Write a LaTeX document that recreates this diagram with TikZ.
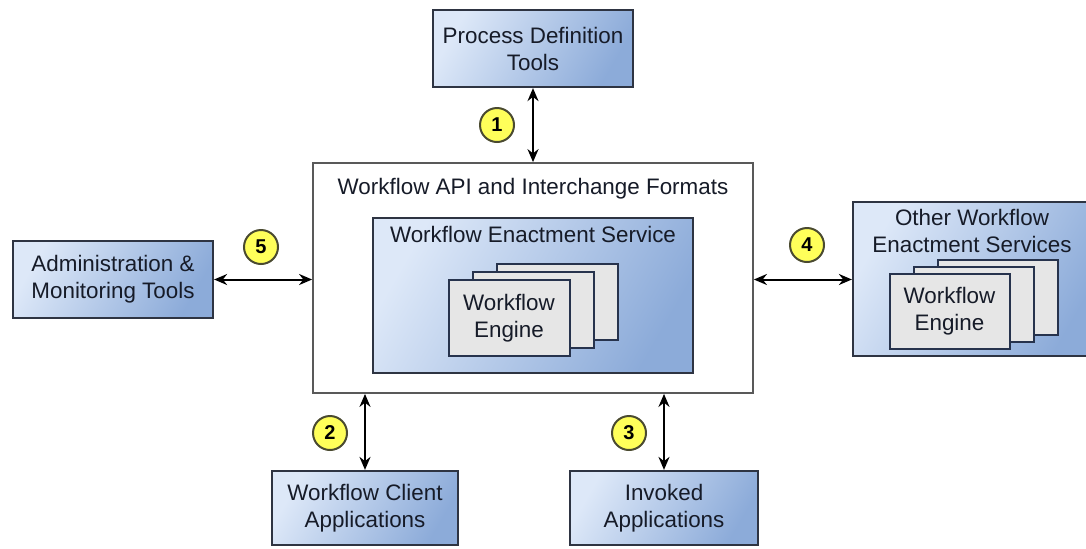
\documentclass[tikz,border=0pt]{standalone}
\usepackage{fontspec}
\setmainfont{Liberation Sans}
\usetikzlibrary{arrows.meta,shadings}
\definecolor{txt}{HTML}{161B28}
\definecolor{bord}{HTML}{2E3442}
\definecolor{blueA}{HTML}{DDE8F8}
\definecolor{blueB}{HTML}{8CABD9}
\definecolor{engfill}{HTML}{E6E6E6}
\definecolor{engbord}{HTML}{27334D}
\definecolor{yel}{HTML}{FFFF5A}
\definecolor{yelbord}{HTML}{4A4A30}
\tikzset{
  bluebox/.style={draw=bord, line width=1.1pt, shading=axis, left color=blueA, right color=blueB, shading angle=60, inner sep=0pt, align=center, text=txt},
  whitebox/.style={draw=black!65, line width=0.9pt, fill=white, inner sep=0pt},
  engbox/.style={draw=engbord, line width=1pt, fill=engfill, inner sep=0pt, align=center, text=txt},
  numcirc/.style={circle, draw=yelbord, line width=1pt, fill=yel, minimum size=17pt, inner sep=0pt, font=\fontsize{10}{12}\selectfont\bfseries},
  biarrow/.style={{Stealth[length=6.5pt,width=5.5pt]}-{Stealth[length=6.5pt,width=5.5pt]}, line width=1pt, black},
  lbl/.style={text=txt, align=center, inner sep=0pt}
}
\begin{document}
\begin{tikzpicture}[x=0.5pt,y=-0.5pt, font=\fontsize{11.2}{13.5}\selectfont]
\useasboundingbox[fill=white] (0,0) rectangle (1086,548);
% top box
\node[bluebox, minimum width=100pt, minimum height=38.5pt] (pdt) at (533,48.5) {Process Definition\\Tools};
% main box
\node[whitebox, minimum width=220pt, minimum height=115pt] (main) at (533,278) {};
\node[lbl] (maintitle) at (533,189) {Workflow API and Interchange Formats};
% enactment service
\node[bluebox, minimum width=160pt, minimum height=77.5pt] (wes) at (533,295.5) {};
\node[lbl] (westitle) at (533,234) {Workflow Enactment Service};
\node[engbox, minimum width=60.5pt, minimum height=38pt] (e3) at (557,302) {};
\node[engbox, minimum width=60.5pt, minimum height=38pt] (e2) at (533,310) {};
\node[engbox, minimum width=60.5pt, minimum height=38pt] (e1) at (509,318) {Workflow\\Engine};
% admin
\node[bluebox, minimum width=100pt, minimum height=38.5pt] (adm) at (113,279.5) {Administration \&\\Monitoring Tools};
% other
\node[bluebox, minimum width=122pt, minimum height=77pt] (oth) at (975,279) {};
\node[lbl] (othtitle) at (972,231) {Other Workflow\\Enactment Services};
\node[engbox, minimum width=60pt, minimum height=37.5pt] (o3) at (997.5,297.5) {};
\node[engbox, minimum width=60pt, minimum height=37.5pt] (o2) at (974,304.5) {};
\node[engbox, minimum width=60pt, minimum height=37.5pt] (o1) at (949.5,311.5) {Workflow\\Engine};
% bottom boxes
\node[bluebox, minimum width=93pt, minimum height=37pt] (cli) at (365,508) {Workflow Client\\Applications};
\node[bluebox, minimum width=94pt, minimum height=37pt] (inv) at (664,508) {Invoked\\Applications};
% arrows
\draw[biarrow] (pdt.south) -- (pdt.south |- main.north);
\draw[biarrow] (adm.east) -- (adm.east -| main.west);
\coordinate (a4) at (oth.west |- adm.east);
\draw[biarrow] (a4 -| main.east) -- (a4);
\draw[biarrow] (cli.north |- main.south) -- (cli.north);
\draw[biarrow] (inv.north |- main.south) -- (inv.north);
% numbers
\node[numcirc] (n1) at (497,125) {1};
\node[numcirc] (n2) at (330,433) {2};
\node[numcirc] (n3) at (629,433) {3};
\node[numcirc] (n4) at (807,245) {4};
\node[numcirc] (n5) at (261,247) {5};
\end{tikzpicture}
\end{document}
